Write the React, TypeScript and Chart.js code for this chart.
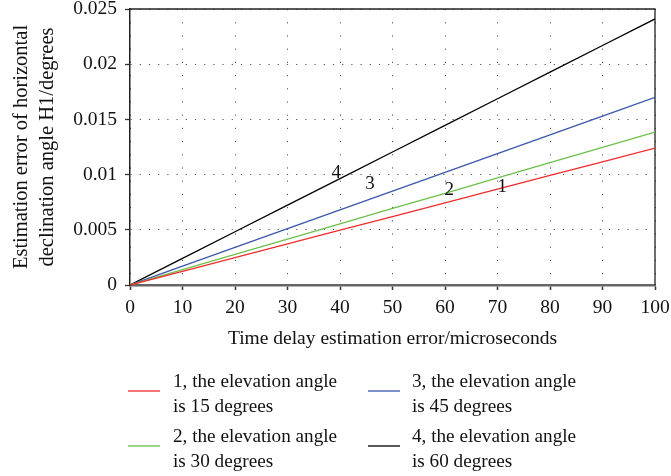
import React, { useEffect, useRef } from 'react';
import { Chart, registerables } from 'chart.js';

Chart.register(...registerables);

const xValues = [0, 10, 20, 30, 40, 50, 60, 70, 80, 90, 100];
const series1 = [0, 0.00124, 0.00248, 0.00372, 0.00496, 0.0062, 0.00744, 0.00868, 0.00992, 0.01116, 0.0124];
const series2 = [0, 0.00139, 0.00277, 0.00416, 0.00554, 0.00693, 0.00831, 0.0097, 0.01108, 0.01247, 0.01385];
const series3 = [0, 0.0017, 0.0034, 0.0051, 0.0068, 0.0085, 0.0102, 0.0119, 0.0136, 0.0153, 0.017];
const series4 = [0, 0.00241, 0.00482, 0.00723, 0.00964, 0.01205, 0.01446, 0.01687, 0.01928, 0.02169, 0.0241];
const seriesValues = [series1, series2, series3, series4];
const seriesLabels = [
  ['1, the elevation angle', 'is 15 degrees'],
  ['2, the elevation angle', 'is 30 degrees'],
  ['3, the elevation angle', 'is 45 degrees'],
  ['4, the elevation angle', 'is 60 degrees'],
];
const seriesColors = ['#ee2b2b', '#6cbf4a', '#3a57aa', '#000000'];
const curveTags = ['1', '2', '3', '4'];
const tagX = [70.9, 60.8, 45.7, 39.3];
const tagY = [0.00888, 0.0086, 0.00915, 0.01014];

const xTitle = 'Time delay estimation error/microseconds';
const yTitle = ['Estimation error of horizontal', 'declination angle H1/degrees'];

const FONT = '"Liberation Serif", "Times New Roman", serif';

const framePlugin = {
  id: 'frame',
  beforeDatasetsDraw(chart: any) {
    const { ctx, chartArea: a } = chart;
    ctx.save();
    ctx.strokeStyle = '#222';
    ctx.lineWidth = 1.3;
    ctx.beginPath();
    ctx.moveTo(a.left, a.top);
    ctx.lineTo(a.right, a.top);
    ctx.lineTo(a.right, a.bottom);
    ctx.stroke();
    ctx.restore();
  },
};

const tagPlugin = {
  id: 'tags',
  afterDatasetsDraw(chart: any) {
    const { ctx, scales } = chart;
    ctx.save();
    ctx.font = `19px ${FONT}`;
    ctx.fillStyle = '#111';
    ctx.textAlign = 'center';
    ctx.textBaseline = 'middle';
    curveTags.forEach((t, i) => {
      ctx.fillText(t, scales.x.getPixelForValue(tagX[i]), scales.y.getPixelForValue(tagY[i]));
    });
    ctx.restore();
  },
};

const legendPlugin = {
  id: 'customLegend',
  afterDraw(chart: any) {
    const { ctx } = chart;
    const cols = [
      { lineX: 128, textX: 173 },
      { lineX: 368, textX: 412 },
    ];
    const rows = [391, 446];
    ctx.save();
    ctx.font = `19.2px ${FONT}`;
    ctx.textAlign = 'left';
    ctx.textBaseline = 'middle';
    seriesLabels.forEach((lines, i) => {
      const c = cols[Math.floor(i / 2)];
      const ry = rows[i % 2];
      ctx.strokeStyle = seriesColors[i];
      ctx.lineWidth = 1.3;
      ctx.beginPath();
      ctx.moveTo(c.lineX, ry);
      ctx.lineTo(c.lineX + 32, ry);
      ctx.stroke();
      ctx.fillStyle = '#111';
      lines.forEach((ln, j) => {
        ctx.fillText(ln, c.textX, ry - 9 + j * 25);
      });
    });
    ctx.restore();
  },
};

export default function App() {
  const ref = useRef<HTMLCanvasElement | null>(null);

  useEffect(() => {
    document.body.style.margin = '0';
    if (!ref.current) return;
    const chart = new Chart(ref.current, {
      type: 'line',
      data: {
        datasets: seriesValues.map((vals, i) => ({
          label: seriesLabels[i].join(' '),
          data: xValues.map((x, k) => ({ x, y: vals[k] })),
          borderColor: seriesColors[i],
          backgroundColor: seriesColors[i],
          borderWidth: 1.3,
          pointRadius: 0,
          tension: 0,
          fill: false,
        })),
      },
      options: {
        animation: false,
        responsive: true,
        maintainAspectRatio: false,
        layout: { padding: { top: 0, right: 16, bottom: 121, left: 0 } },
        plugins: {
          legend: { display: false },
          tooltip: { enabled: false },
        },
        scales: {
          x: {
            type: 'linear',
            min: 0,
            max: 100,
            afterFit: (s: any) => {
              s.height = 70;
              s.paddingLeft = 0;
              s.paddingRight = 0;
            },
            ticks: {
              stepSize: 10,
              color: '#111',
              padding: 6,
              font: { family: FONT, size: 19.5 },
            },
            grid: {
              color: '#555',
              lineWidth: 1,
              drawTicks: true,
              tickLength: 5,
              tickColor: '#333',
              tickWidth: 1.5,
            },
            border: { display: true, color: '#666', width: 2.5, dash: [1.2, 12] },
            title: {
              display: true,
              text: xTitle,
              color: '#111',
              font: { family: FONT, size: 19.5 },
              padding: { top: 2, bottom: 4 },
            },
          },
          y: {
            type: 'linear',
            min: 0,
            max: 0.025,
            afterFit: (s: any) => {
              s.width = 130;
              s.paddingTop = 9;
              s.paddingBottom = 9;
            },
            ticks: {
              stepSize: 0.005,
              color: '#111',
              padding: 8,
              font: { family: FONT, size: 19.5, lineHeight: 1 },
              callback: (v: any) => String(Number(Number(v).toFixed(4))),
            },
            grid: {
              color: '#555',
              lineWidth: 1,
              drawTicks: true,
              tickLength: 5,
              tickColor: '#333',
              tickWidth: 1.3,
            },
            border: { display: true, color: '#222', width: 1.5, dash: [1.2, 8] },
            title: {
              display: true,
              text: yTitle,
              color: '#111',
              font: { family: FONT, size: 20.5, lineHeight: 1.25 },
              padding: { top: 9, bottom: 0 },
            },
          },
        },
      },
      plugins: [framePlugin, tagPlugin, legendPlugin],
    } as any);
    return () => chart.destroy();
  }, []);

  return (
    <div style={{ width: 671, height: 476, position: 'relative' }}>
      <canvas ref={ref} />
    </div>
  );
}
